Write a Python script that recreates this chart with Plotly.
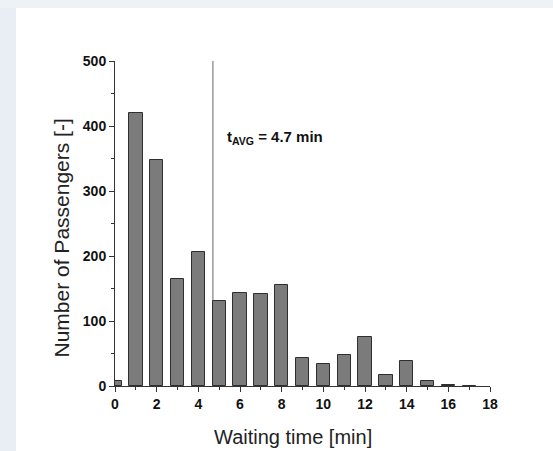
import plotly.graph_objects as go

waiting_time = list(range(0, 18))
passengers = [8, 420, 348, 165, 206, 131, 143, 141, 156, 43, 34, 48, 76, 17, 38, 7, 2, 0]
avg_wait = 4.7
x_ticks = [0, 2, 4, 6, 8, 10, 12, 14, 16, 18]
y_ticks = [0, 100, 200, 300, 400, 500]

W, H = 553, 451
L, T = 115, 61
pw, ph = 375, 325
R, B = W - L - pw, H - T - ph

def px(x):  # page pixel -> paper x
    return (x - L) / pw

def py(y):  # page pixel -> paper y
    return (H - B - y) / ph

font = "Arial, Liberation Sans"

fig = go.Figure()
fig.add_trace(go.Bar(
    x=waiting_time, y=passengers, width=0.64,
    marker=dict(color="#7b7b7b", line=dict(color="#2e2e2e", width=1)),
    cliponaxis=True,
))

bg = "#e8eef3"
fig.add_shape(type="rect", xref="paper", yref="paper", layer="below",
              x0=px(0), x1=px(16), y0=py(H), y1=py(0), fillcolor=bg, line_width=0)
fig.add_shape(type="rect", xref="paper", yref="paper", layer="below",
              x0=px(0), x1=px(W), y0=py(8), y1=py(0), fillcolor="#edf2f6", line_width=0)

fig.add_shape(type="line", xref="x", yref="y", layer="below",
              x0=avg_wait, x1=avg_wait, y0=0, y1=500,
              line=dict(color="#6a6a6a", width=1))

fig.add_annotation(x=px(225), y=py(137), xref="paper", yref="paper",
                   xanchor="left", yanchor="middle",
                   text="<b>t<sub>AVG</sub> = 4.7 min</b>", showarrow=False,
                   font=dict(family=font, size=15, color="#111"))

fig.add_annotation(x=px(292.5), y=py(437), xref="paper", yref="paper",
                   xanchor="center", yanchor="middle", showarrow=False,
                   text="Waiting time [min]",
                   font=dict(family=font, size=20, color="#222"))
fig.add_annotation(x=px(61), y=py(238.5), xref="paper", yref="paper",
                   xanchor="center", yanchor="middle", showarrow=False,
                   textangle=-90, text="Number of Passengers [-]",
                   font=dict(family=font, size=21, color="#222"))

fig.update_layout(
    width=W, height=H,
    margin=dict(l=L, r=R, t=T, b=B, pad=0),
    paper_bgcolor="white", plot_bgcolor="white",
    showlegend=False,
    bargap=0,
)
fig.update_xaxes(
    range=[0, 18], tickvals=x_ticks, ticktext=[str(v) for v in x_ticks],
    showgrid=False, zeroline=False, showline=True, linecolor="#333", linewidth=1,
    ticks="outside", ticklen=5, tickwidth=1, tickcolor="#333",
    minor=dict(dtick=1, tick0=0, ticks="outside", ticklen=3, tickcolor="#333", showgrid=False),
    tickfont=dict(family=font, size=14, color="#111", weight="bold"),
)
fig.update_yaxes(
    range=[0, 500], tickvals=y_ticks, ticktext=[str(v) for v in y_ticks],
    showgrid=False, zeroline=False, showline=True, linecolor="#333", linewidth=1,
    ticks="outside", ticklen=5, tickwidth=1, tickcolor="#333",
    minor=dict(dtick=50, tick0=0, ticks="outside", ticklen=3, tickcolor="#333", showgrid=False),
    tickfont=dict(family=font, size=14, color="#111", weight="bold"),
)

fig.write_html("out.html", config={"displayModeBar": False},
               post_script="document.body.style.margin='0';")
